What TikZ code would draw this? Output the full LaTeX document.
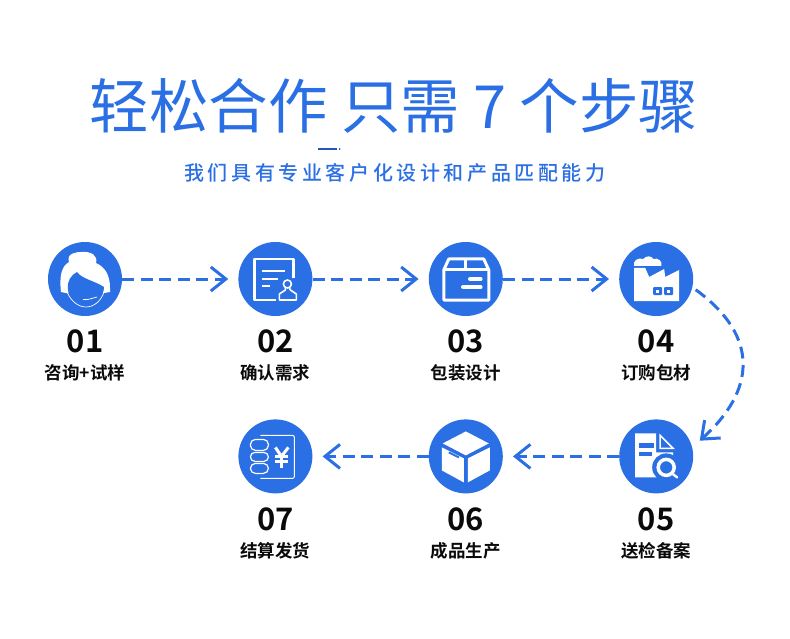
\documentclass[tikz,border=0pt]{standalone}
\usepackage{fontspec}
\setmainfont{Noto Sans CJK SC}[BoldFont={Noto Sans CJK SC Bold}]
\newfontfamily\subfont{Noto Sans CJK SC Medium}[LetterSpace=18]
\usetikzlibrary{positioning, arrows.meta}
\definecolor{stepblue}{HTML}{2A6FE3}
\definecolor{inkblack}{HTML}{0A0A0A}

\begin{document}
\begin{tikzpicture}[
                x=1pt, y=-1pt,
                stepnode/.style={circle, fill=stepblue, minimum size=74pt, inner sep=0pt},
                numlbl/.style={font=\fontsize{31}{31}\selectfont\bfseries, text=inkblack, inner sep=0pt},
                steplbl/.style={font=\fontsize{17.5}{17.5}\selectfont\bfseries, text=inkblack, inner sep=0pt},
                arr/.style={-{Straight Barb[length=15pt, width=24pt, line width=3pt]}, draw=stepblue, line width=3pt, dash pattern=on 12pt off 6.5pt, shorten >=10pt},
                icon/.style={draw=white, line width=2pt, line join=round},
            ]
            \useasboundingbox (0,0) rectangle (790,639);

            % === Heading ===
            \node (title) at (394,106) [text=stepblue, inner sep=0pt, font=\fontsize{59.5}{60}\selectfont] {轻松合作 只需 7 个步骤};
            \node (sub) at (395,173) [text=stepblue, inner sep=0pt, font=\fontsize{20}{20}\selectfont\subfont] {我们具有专业客户化设计和产品匹配能力};
            \draw[stepblue!80!black, line width=2pt] (318,149) -- (337,149);
            \fill[stepblue!80!black] (339.5,149) circle (1pt);

            % === Step circles ===
            \node (c1) [stepnode] at (85,279) {};
            \node (c2) [stepnode, right=116pt of c1] {};
            \node (c3) [stepnode, right=116pt of c2] {};
            \node (c4) [stepnode, right=116pt of c3] {};
            \node (c5) [stepnode, below=103pt of c4] {};
            \node (c6) [stepnode, left=116pt of c5] {};
            \node (c7) [stepnode, left=116pt of c6] {};

            % === Numbers and captions ===
            \foreach \i/\t in {1/咨询+试样, 2/确认需求, 3/包装设计, 4/订购包材, 5/送检备案, 6/成品生产, 7/结算发货} {
                \node (n\i) [numlbl] at ([yshift=-62.5pt]c\i.center) {0\i};
                \node (t\i) [steplbl] at ([yshift=-94pt]c\i.center) {\t};
            }

            % === Arrows ===
            \draw[arr] (c1) -- (c2);
            \draw[arr] (c2) -- (c3);
            \draw[arr] (c3) -- (c4);
            \draw[arr, shorten <=4pt] (c4.-13) to[out=-36, in=42, looseness=1.35] (c5.14);
            \draw[arr] (c5) -- (c6);
            \draw[arr] (c6) -- (c7);

            % === Icon 1 ===
            \begin{scope}[shift={(c1.center)}]
                \fill[white] (-24,13) .. controls (-26,-4) and (-23,-13) .. (-16,-17) .. controls (-19,-26) and (-8,-27) .. (-4,-27) .. controls (7,-28) and (13,-23) .. (11,-16) .. controls (20,-12) and (25,-4) .. (25,9) -- (25,13) -- (19,14) -- (-19,14) -- cycle;
                \fill[stepblue] (-17,10) .. controls (-18,2) and (-14,-4) .. (-8,-7) .. controls (-3,0) and (10,2) .. (19,8) .. controls (19,18) and (10,26) .. (1,26) .. controls (-9,26) and (-17,19) .. (-17,10) -- cycle;
                \draw[white, line width=0.7pt] (-18,13) .. controls (-14,22) and (-7,28) .. (1,28) .. controls (9,28) and (16,22) .. (19,13);
                \draw[white, line width=1.5pt] (-2,20.5) -- (3,20.5);
                \draw[white, line width=0.7pt] (3,20.5) -- (12,18);
            \end{scope}

            % === Icon 2 ===
            \begin{scope}[shift={(c2.center)}]
                \draw[icon, line width=2.4pt] (1,21) -- (-21,21) -- (-21,-20) -- (18,-20) -- (18,-1);
                \draw[icon] (-13,-8) -- (10,-8);
                \draw[icon] (-13,0) -- (3,0);
                \draw[icon] (-13,7) -- (-5,7);
                \draw[white, line width=1.6pt] (12,5) circle (4pt);
                \draw[white, line width=1.6pt, line join=round] (10,9) -- (10,11) -- (4,15) -- (4,21) -- (21,21) -- (21,15) -- (15,11) -- (14,9);
            \end{scope}

            % === Icon 3 ===
            \begin{scope}[shift={(c3.center)}]
                \draw[icon, line width=3pt] (-17,-20) -- (18,-20) -- (23,-9) -- (23,21) -- (-22,21) -- (-22,-9) -- cycle;
                \draw[icon, line width=3pt] (-22,-9) -- (23,-9);
                \draw[icon, line width=3pt] (0,-20) -- (0,-9);
                \draw[icon, line width=3.5pt, line cap=round] (4,0) -- (15,0);
                \draw[icon, line width=3.5pt, line cap=round] (-3,8) -- (15,8);
            \end{scope}

            % === Icon 4 ===
            \begin{scope}[shift={(c4.center)}]
                \fill[white] (-22,-11) -- (-11,-11) -- (-7,-2) -- (8,-10) -- (9,-2) -- (23,-9) -- (23,22) -- (-22,22) -- cycle;
                \fill[white] (-22,-13) .. controls (-24,-18) and (-18,-22) .. (-13,-20) .. controls (-10,-24) and (-4,-23) .. (-3,-20) .. controls (2,-22) and (7,-17) .. (5,-13) -- cycle;
                \fill[stepblue, rounded corners=1pt] (-3,8) rectangle (6,16);
                \fill[stepblue, rounded corners=1pt] (8,8) rectangle (17,16);
                \fill[white] (0,10.5) rectangle (3,13.5);
                \fill[white] (11,10.5) rectangle (14,13.5);
            \end{scope}

            % === Icon 5 ===
            \begin{scope}[shift={(c5.center)}]
                \fill[white] (-21,-23) -- (0,-23) -- (0,-4) -- (17,-4) -- (17,21) -- (-21,21) -- cycle;
                \draw[white, line width=1.5pt, line join=miter] (4,-21) -- (4,-8) -- (17,-8) -- cycle;
                \fill[stepblue] (-17,-13) rectangle (-2,-8);
                \fill[stepblue] (-17,-4) rectangle (-4,0);
                \fill[stepblue] (10,11) circle (14pt);
                \draw[white, line width=3.5pt] (10,11) circle (8pt);
                \draw[white, line width=2.5pt, line cap=round] (17,18) -- (21,21);
            \end{scope}

            % === Icon 6 ===
            \begin{scope}[shift={(c6.center)}]
                \fill[white] (0,-25) -- (23,-13) -- (0,-1) -- (-23,-13) -- cycle;
                \fill[white] (-24,-9) -- (-2,2) -- (-2,26) -- (-24,14) -- cycle;
                \fill[white] (2,2) -- (24,-9) -- (24,14) -- (2,26) -- cycle;
                \draw[stepblue, line width=2pt] (-17,-4) -- (-7,1);
            \end{scope}

            % === Icon 7 ===
            \begin{scope}[shift={(c7.center)}]
                \draw[white, line width=1pt, rounded corners=2pt] (-15,-21) -- (19,-21) -- (19,22) -- (-15,22);
                \draw[white, line width=1.2pt, fill=stepblue, rounded corners=5pt] (-25,-17) rectangle (-7,-6);
                \draw[white, line width=1.2pt, fill=stepblue, rounded corners=4.5pt] (-25,-4) rectangle (-7,5);
                \draw[white, line width=1.2pt, fill=stepblue, rounded corners=5pt] (-25,7) rectangle (-7,17);
                \draw[white, line width=3pt] (0,-9) -- (6,0) -- (13,-9);
                \draw[white, line width=3pt] (6,0) -- (6,12);
                \draw[white, line width=2.4pt] (0,0) -- (13,0);
                \draw[white, line width=2.4pt] (0,5) -- (13,5);
            \end{scope}
            \end{tikzpicture}
\end{document}
